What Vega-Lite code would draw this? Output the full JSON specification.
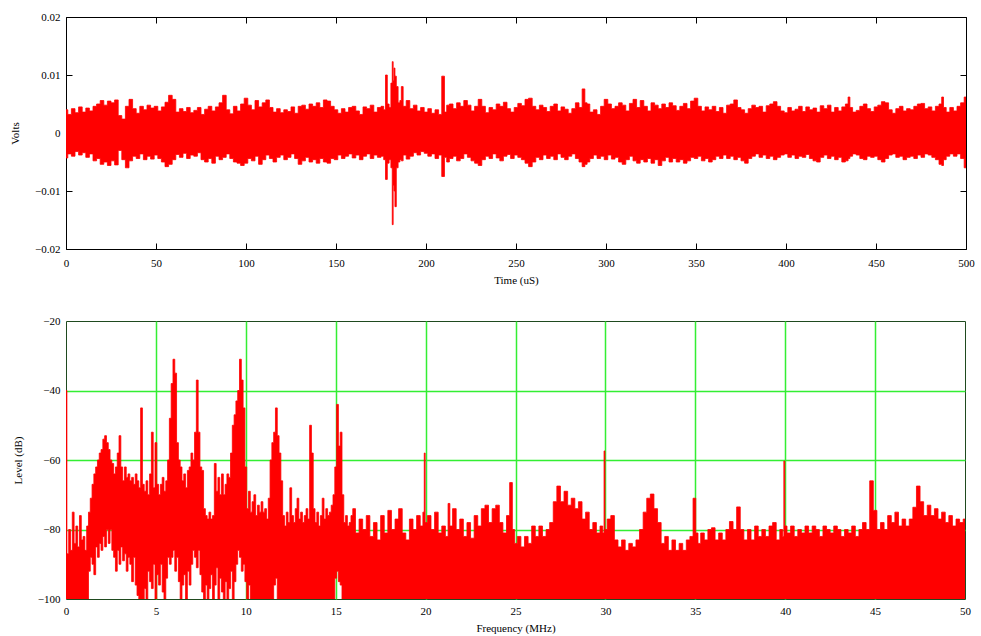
{
  "$schema": "https://vega.github.io/schema/vega-lite/v6.json",
  "background": "white",
  "padding": {"left": 9, "top": 10, "right": 10, "bottom": 0},
  "spacing": 28,
  "config": {
    "font": "Liberation Serif",
    "axis": {"labelFont": "Liberation Serif", "labelFontSize": 11, "labelColor": "#000", "titleFont": "Liberation Serif", "titleFontSize": 11, "titleFontWeight": "normal", "titleColor": "#000", "domain": false, "tickColor": "#000", "grid": false, "labelFlush": false, "labelOverlap": false},
    "view": {"stroke": "#000", "strokeWidth": 1}
  },
  "vconcat": [
    {
      "width": 900,
      "height": 232,
      "data": {"values": "t,hi,lo\n0,0.0040,-0.0043\n2,0.0032,-0.0036\n4,0.0042,-0.0040\n6,0.0035,-0.0032\n8,0.0045,-0.0038\n10,0.0036,-0.0034\n12,0.0043,-0.0042\n14,0.0038,-0.0036\n16,0.0046,-0.0048\n18,0.0050,-0.0044\n20,0.0056,-0.0054\n22,0.0048,-0.0050\n24,0.0055,-0.0056\n26,0.0052,-0.0048\n28,0.0057,-0.0055\n30,0.0030,-0.0030\n32,0.0024,-0.0046\n34,0.0046,-0.0060\n36,0.0058,-0.0048\n38,0.0042,-0.0040\n40,0.0034,-0.0044\n42,0.0046,-0.0036\n44,0.0040,-0.0046\n46,0.0048,-0.0040\n48,0.0043,-0.0045\n50,0.0046,-0.0038\n52,0.0038,-0.0044\n54,0.0045,-0.0050\n56,0.0053,-0.0058\n58,0.0065,-0.0054\n60,0.0058,-0.0046\n62,0.0036,-0.0037\n64,0.0042,-0.0042\n66,0.0037,-0.0035\n68,0.0044,-0.0044\n70,0.0035,-0.0038\n72,0.0039,-0.0040\n74,0.0044,-0.0034\n76,0.0032,-0.0046\n78,0.0041,-0.0050\n80,0.0046,-0.0044\n82,0.0038,-0.0052\n84,0.0045,-0.0040\n86,0.0052,-0.0046\n88,0.0065,-0.0042\n90,0.0040,-0.0036\n92,0.0033,-0.0044\n94,0.0046,-0.0050\n96,0.0038,-0.0052\n98,0.0050,-0.0056\n100,0.0060,-0.0052\n102,0.0048,-0.0044\n104,0.0040,-0.0048\n106,0.0056,-0.0040\n108,0.0045,-0.0054\n110,0.0052,-0.0046\n112,0.0057,-0.0038\n114,0.0044,-0.0044\n116,0.0036,-0.0050\n118,0.0042,-0.0042\n120,0.0035,-0.0038\n122,0.0040,-0.0046\n124,0.0037,-0.0042\n126,0.0045,-0.0036\n128,0.0034,-0.0044\n130,0.0046,-0.0054\n132,0.0048,-0.0048\n134,0.0041,-0.0042\n136,0.0050,-0.0050\n138,0.0046,-0.0046\n140,0.0052,-0.0052\n142,0.0044,-0.0044\n144,0.0057,-0.0050\n146,0.0055,-0.0052\n148,0.0046,-0.0044\n150,0.0040,-0.0046\n152,0.0034,-0.0038\n154,0.0042,-0.0044\n156,0.0036,-0.0040\n158,0.0044,-0.0036\n160,0.0046,-0.0043\n162,0.0038,-0.0038\n164,0.0032,-0.0046\n166,0.0045,-0.0040\n168,0.0042,-0.0036\n170,0.0048,-0.0044\n172,0.0036,-0.0038\n174,0.0044,-0.0042\n176,0.0046,-0.0040\n177,0.0040,-0.0046\n178,0.0100,-0.0080\n179,0.0050,-0.0052\n180,0.0044,-0.0046\n181,0.0086,-0.0060\n181.5,0.0123,-0.0158\n182,0.0090,-0.0090\n182.5,0.0112,-0.0100\n183,0.0098,-0.0127\n184,0.0080,-0.0060\n185,0.0052,-0.0050\n186,0.0056,-0.0046\n186.6,0.0080,-0.0048\n188,0.0046,-0.0038\n190,0.0056,-0.0045\n192,0.0042,-0.0040\n194,0.0048,-0.0034\n196,0.0038,-0.0038\n198,0.0044,-0.0032\n200,0.0036,-0.0035\n202,0.0042,-0.0040\n204,0.0034,-0.0036\n206,0.0040,-0.0044\n208,0.0032,-0.0038\n209.5,0.0098,-0.0075\n211,0.0036,-0.0042\n212,0.0048,-0.0050\n214,0.0050,-0.0044\n216,0.0042,-0.0040\n218,0.0052,-0.0048\n220,0.0046,-0.0044\n222,0.0056,-0.0036\n224,0.0048,-0.0042\n226,0.0038,-0.0048\n228,0.0046,-0.0052\n230,0.0058,-0.0056\n232,0.0046,-0.0046\n234,0.0035,-0.0040\n236,0.0044,-0.0044\n238,0.0040,-0.0036\n240,0.0050,-0.0043\n242,0.0046,-0.0048\n244,0.0053,-0.0040\n246,0.0042,-0.0037\n248,0.0036,-0.0044\n250,0.0044,-0.0038\n252,0.0051,-0.0042\n254,0.0047,-0.0046\n256,0.0058,-0.0052\n258,0.0060,-0.0058\n260,0.0046,-0.0050\n262,0.0040,-0.0042\n264,0.0048,-0.0046\n266,0.0044,-0.0038\n268,0.0037,-0.0044\n270,0.0046,-0.0040\n272,0.0050,-0.0046\n274,0.0038,-0.0036\n276,0.0045,-0.0042\n278,0.0041,-0.0046\n280,0.0034,-0.0040\n282,0.0042,-0.0036\n284,0.0052,-0.0044\n286,0.0044,-0.0050\n287.5,0.0076,-0.0058\n289,0.0052,-0.0054\n290,0.0050,-0.0050\n292,0.0036,-0.0044\n294,0.0040,-0.0038\n296,0.0032,-0.0044\n298,0.0046,-0.0040\n300,0.0058,-0.0046\n302,0.0050,-0.0038\n304,0.0042,-0.0045\n306,0.0046,-0.0042\n308,0.0052,-0.0050\n310,0.0048,-0.0054\n312,0.0038,-0.0046\n314,0.0051,-0.0040\n316,0.0058,-0.0048\n318,0.0044,-0.0052\n320,0.0056,-0.0046\n322,0.0046,-0.0050\n324,0.0038,-0.0044\n326,0.0052,-0.0052\n328,0.0048,-0.0046\n330,0.0042,-0.0056\n332,0.0050,-0.0048\n334,0.0044,-0.0042\n336,0.0052,-0.0050\n338,0.0047,-0.0044\n340,0.0039,-0.0050\n342,0.0046,-0.0046\n344,0.0051,-0.0052\n346,0.0042,-0.0048\n348,0.0055,-0.0042\n350,0.0060,-0.0044\n352,0.0046,-0.0040\n354,0.0038,-0.0048\n356,0.0045,-0.0044\n358,0.0040,-0.0050\n360,0.0046,-0.0046\n362,0.0037,-0.0040\n364,0.0044,-0.0044\n366,0.0034,-0.0038\n368,0.0048,-0.0044\n370,0.0050,-0.0040\n372,0.0057,-0.0046\n374,0.0044,-0.0042\n376,0.0040,-0.0048\n378,0.0034,-0.0052\n380,0.0042,-0.0044\n382,0.0048,-0.0040\n384,0.0044,-0.0036\n386,0.0046,-0.0042\n388,0.0036,-0.0038\n390,0.0047,-0.0044\n392,0.0050,-0.0040\n394,0.0054,-0.0046\n396,0.0046,-0.0042\n398,0.0038,-0.0038\n400,0.0035,-0.0036\n402,0.0044,-0.0042\n404,0.0038,-0.0038\n406,0.0041,-0.0044\n408,0.0046,-0.0040\n410,0.0037,-0.0042\n412,0.0045,-0.0037\n414,0.0040,-0.0044\n416,0.0043,-0.0048\n418,0.0036,-0.0050\n420,0.0047,-0.0042\n422,0.0042,-0.0038\n424,0.0048,-0.0044\n426,0.0036,-0.0040\n428,0.0044,-0.0046\n430,0.0038,-0.0042\n432,0.0045,-0.0050\n434,0.0050,-0.0048\n435,0.0062,-0.0044\n436,0.0044,-0.0040\n438,0.0036,-0.0036\n440,0.0039,-0.0038\n442,0.0046,-0.0044\n444,0.0050,-0.0046\n446,0.0042,-0.0040\n448,0.0037,-0.0042\n450,0.0045,-0.0040\n452,0.0048,-0.0046\n454,0.0054,-0.0050\n456,0.0052,-0.0044\n458,0.0040,-0.0038\n460,0.0034,-0.0036\n462,0.0042,-0.0042\n464,0.0046,-0.0040\n466,0.0038,-0.0046\n468,0.0042,-0.0042\n470,0.0040,-0.0040\n472,0.0046,-0.0044\n474,0.0050,-0.0038\n476,0.0051,-0.0042\n478,0.0042,-0.0036\n480,0.0045,-0.0038\n482,0.0038,-0.0042\n484,0.0046,-0.0046\n486,0.0050,-0.0054\n487,0.0062,-0.0056\n488,0.0044,-0.0046\n490,0.0036,-0.0040\n492,0.0044,-0.0036\n494,0.0038,-0.0040\n496,0.0046,-0.0036\n498,0.0052,-0.0044\n500,0.0062,-0.0060", "format": {"type": "csv"}},
      "layer": [
        {
          "mark": {"type": "area", "color": "#ff0000", "stroke": "#ff0000", "strokeWidth": 0.8, "interpolate": "step", "clip": true},
          "encoding": {
            "x": {"field": "t", "type": "quantitative", "scale": {"domain": [0, 500], "nice": false, "zero": false},
                  "axis": {"orient": "bottom", "values": [0, 50, 100, 150, 200, 250, 300, 350, 400, 450, 500], "tickSize": -6, "labelPadding": 14, "title": "Time (uS)", "titlePadding": 6}},
            "y": {"field": "hi", "type": "quantitative", "scale": {"domain": [-0.02, 0.02], "nice": false, "zero": false},
                  "axis": {"orient": "left", "values": [-0.02, -0.01, 0, 0.01, 0.02], "format": ".2~f", "tickSize": -6, "labelPadding": 12, "title": "Volts", "titlePadding": 14}},
            "y2": {"field": "lo"}
          }
        },
        {
          "mark": {"type": "area", "opacity": 0},
          "encoding": {
            "x": {"field": "t", "type": "quantitative", "axis": {"orient": "top", "values": [0, 50, 100, 150, 200, 250, 300, 350, 400, 450, 500], "tickSize": -6, "labels": false, "title": null}},
            "y": {"field": "hi", "type": "quantitative", "axis": {"orient": "right", "values": [-0.02, -0.01, 0, 0.01, 0.02], "tickSize": -6, "labels": false, "title": null}},
            "y2": {"field": "lo"}
          }
        }
      ],
      "resolve": {"axis": {"x": "independent", "y": "independent"}}
    },
    {
      "width": 899,
      "height": 278,
      "view": {"stroke": "#1f4a1f"},
      "data": {"values": "f,hi,lo\n0,-40,-100\n0.1,-87,-100\n0.2,-80,-100\n0.3,-86,-100\n0.4,-75,-100\n0.5,-84,-100\n0.6,-79,-100\n0.7,-85,-100\n0.8,-76,-100\n0.9,-83,-100\n1.0,-82,-100\n1.1,-86,-100\n1.2,-79,-100\n1.3,-75,-92\n1.4,-71,-88\n1.5,-67,-90\n1.6,-64,-93\n1.7,-62,-85\n1.8,-60,-88\n1.9,-58,-84\n2.0,-57,-86\n2.1,-54,-82\n2.2,-53,-85\n2.3,-55,-80\n2.4,-57,-84\n2.5,-60,-80\n2.6,-61,-86\n2.7,-64,-88\n2.8,-62,-92\n2.9,-58,-86\n3.0,-53,-90\n3.1,-62,-85\n3.2,-66,-89\n3.3,-62,-87\n3.4,-65,-92\n3.5,-64,-88\n3.6,-66,-90\n3.7,-65,-95\n3.8,-67,-88\n3.9,-64,-96\n4.0,-66,-99\n4.1,-68,-100\n4.2,-45,-100\n4.3,-67,-100\n4.4,-69,-97\n4.5,-66,-100\n4.6,-70,-92\n4.7,-64,-95\n4.8,-52,-97\n4.9,-68,-90\n5.0,-55,-100\n5.1,-67,-93\n5.2,-70,-96\n5.3,-67,-90\n5.4,-65,-98\n5.5,-69,-100\n5.6,-66,-94\n5.7,-60,-88\n5.8,-48,-90\n5.9,-38,-88\n6.0,-31,-86\n6.1,-35,-92\n6.2,-55,-88\n6.3,-60,-95\n6.4,-62,-100\n6.5,-66,-96\n6.6,-64,-93\n6.7,-68,-100\n6.8,-63,-92\n6.9,-62,-96\n7.0,-58,-90\n7.1,-60,-86\n7.2,-52,-88\n7.3,-37,-91\n7.4,-52,-86\n7.5,-62,-93\n7.6,-63,-98\n7.7,-74,-100\n7.8,-76,-96\n7.9,-77,-100\n8.0,-75,-97\n8.1,-77,-93\n8.2,-76,-100\n8.3,-61,-96\n8.4,-69,-91\n8.5,-65,-100\n8.6,-70,-94\n8.7,-64,-98\n8.8,-70,-100\n8.9,-67,-95\n9.0,-64,-100\n9.1,-65,-97\n9.2,-58,-92\n9.3,-50,-100\n9.4,-47,-95\n9.5,-43,-90\n9.6,-40,-86\n9.7,-31,-88\n9.8,-37,-92\n9.9,-45,-90\n10.0,-62,-95\n10.1,-74,-100\n10.2,-69,-96\n10.3,-75,-100\n10.4,-72,-100\n10.5,-70,-100\n10.6,-76,-100\n10.7,-73,-100\n10.8,-75,-100\n10.9,-72,-100\n11.0,-75,-100\n11.1,-74,-100\n11.2,-77,-100\n11.3,-71,-100\n11.4,-60,-100\n11.5,-55,-100\n11.6,-52,-96\n11.7,-45,-94\n11.8,-53,-100\n11.9,-58,-100\n12.0,-66,-100\n12.1,-76,-100\n12.2,-79,-100\n12.3,-75,-100\n12.4,-78,-100\n12.5,-68,-100\n12.6,-76,-100\n12.7,-78,-100\n12.8,-74,-100\n12.9,-71,-100\n13.0,-77,-100\n13.1,-75,-100\n13.2,-78,-100\n13.3,-76,-100\n13.4,-74,-100\n13.5,-77,-100\n13.6,-50,-100\n13.7,-58,-100\n13.8,-74,-100\n13.9,-78,-100\n14.0,-75,-100\n14.1,-79,-100\n14.2,-76,-100\n14.3,-71,-100\n14.4,-77,-100\n14.5,-74,-100\n14.6,-76,-100\n14.7,-75,-100\n14.8,-73,-100\n14.9,-70,-100\n15.0,-62,-94\n15.1,-44,-92\n15.2,-56,-95\n15.3,-52,-96\n15.4,-70,-100\n15.5,-78,-100\n15.6,-76,-100\n15.7,-79,-100\n15.8,-78,-100\n15.9,-76,-100\n16.0,-74,-100\n16.2,-81,-100\n16.4,-77,-100\n16.6,-80,-100\n16.8,-76,-100\n17.0,-82,-100\n17.2,-78,-100\n17.4,-83,-100\n17.6,-76,-100\n17.8,-81,-100\n18.0,-74.5,-100\n18.2,-80,-100\n18.4,-77,-100\n18.6,-74,-100\n18.8,-81,-100\n19.0,-83,-100\n19.2,-77,-100\n19.4,-80,-100\n19.6,-76,-100\n19.8,-79,-100\n19.9,-75,-100\n19.95,-58,-100\n20.0,-78,-100\n20.2,-76,-100\n20.4,-80,-100\n20.6,-75,-100\n20.8,-81,-100\n21.0,-79,-100\n21.2,-82,-100\n21.3,-72.5,-100\n21.4,-79,-100\n21.6,-74,-100\n21.8,-80,-100\n22.0,-77,-100\n22.2,-82,-100\n22.4,-78,-100\n22.6,-82.5,-100\n22.8,-76,-100\n23.0,-79,-100\n23.2,-74,-100\n23.4,-73,-100\n23.6,-78,-100\n23.8,-74,-100\n24.0,-73,-100\n24.2,-78,-100\n24.4,-81,-100\n24.6,-76,-100\n24.75,-66.5,-100\n24.9,-80,-100\n25.0,-84,-100\n25.2,-82,-100\n25.4,-85,-100\n25.6,-82,-100\n25.8,-84,-100\n26.0,-79,-100\n26.2,-82,-100\n26.4,-79,-100\n26.6,-82,-100\n26.8,-80,-100\n27.0,-78,-100\n27.2,-72,-100\n27.4,-67.5,-100\n27.6,-72,-100\n27.8,-69,-100\n28.0,-73,-100\n28.2,-71,-100\n28.4,-74,-100\n28.6,-72,-100\n28.8,-77,-100\n29.0,-75,-100\n29.2,-80,-100\n29.4,-78,-100\n29.6,-81,-100\n29.8,-79,-100\n29.9,-81,-100\n29.95,-57.4,-100\n30.0,-80,-100\n30.2,-77,-100\n30.4,-76,-100\n30.6,-83,-100\n30.8,-85,-100\n31.0,-83,-100\n31.2,-86,-100\n31.4,-84,-100\n31.6,-85,-100\n31.8,-83,-100\n32.0,-80,-100\n32.2,-75,-100\n32.4,-71,-100\n32.6,-69.8,-100\n32.8,-74,-100\n33.0,-78,-100\n33.2,-84,-100\n33.4,-82,-100\n33.6,-86,-100\n33.8,-83,-100\n34.0,-86,-100\n34.2,-84,-100\n34.4,-86,-100\n34.6,-83,-100\n34.8,-82,-100\n34.95,-71,-100\n35.1,-81,-100\n35.2,-84,-100\n35.4,-81,-100\n35.6,-83,-100\n35.8,-80,-100\n36.0,-79.5,-100\n36.2,-83,-100\n36.4,-81,-100\n36.6,-83,-100\n36.8,-80,-100\n37.0,-77.7,-100\n37.2,-80,-100\n37.4,-73.5,-100\n37.6,-80,-100\n37.8,-83,-100\n38.0,-80,-100\n38.2,-83,-100\n38.4,-79,-100\n38.6,-82,-100\n38.8,-80,-100\n39.0,-82,-100\n39.2,-79,-100\n39.4,-78,-100\n39.6,-83,-100\n39.8,-80,-100\n39.9,-82,-100\n39.95,-60.3,-100\n40.0,-79,-100\n40.2,-81,-100\n40.4,-79,-100\n40.6,-82,-100\n40.8,-80,-100\n41.0,-81,-100\n41.2,-79,-100\n41.4,-81,-100\n41.6,-79,-100\n41.8,-80,-100\n42.0,-82,-100\n42.2,-79,-100\n42.4,-80,-100\n42.6,-81,-100\n42.8,-79,-100\n43.0,-80,-100\n43.2,-82,-100\n43.4,-80,-100\n43.6,-81,-100\n43.8,-79,-100\n44.0,-82,-100\n44.2,-80,-100\n44.4,-78,-100\n44.6,-80,-100\n44.8,-66,-100\n45.0,-74.5,-100\n45.2,-80,-100\n45.4,-78,-100\n45.6,-80,-100\n45.8,-76,-100\n46.0,-78,-100\n46.2,-75,-100\n46.4,-79,-100\n46.6,-77,-100\n46.8,-79,-100\n47.0,-77,-100\n47.2,-73.6,-100\n47.4,-67.5,-100\n47.6,-72,-100\n47.8,-76,-100\n48.0,-73,-100\n48.2,-76,-100\n48.4,-74,-100\n48.6,-77,-100\n48.8,-75,-100\n49.0,-78,-100\n49.2,-76,-100\n49.4,-79,-100\n49.6,-77,-100\n49.8,-78,-100\n50.0,-77,-100", "format": {"type": "csv"}},
      "mark": {"type": "area", "color": "#ff0000", "stroke": "#ff0000", "strokeWidth": 0.8, "interpolate": "step", "clip": true},
      "encoding": {
        "x": {"field": "f", "type": "quantitative", "scale": {"domain": [0, 50], "nice": false, "zero": false},
              "axis": {"values": [0, 5, 10, 15, 20, 25, 30, 35, 40, 45, 50], "ticks": false, "labelPadding": 6, "title": "Frequency (MHz)", "titlePadding": 6,
                       "grid": true, "gridWidth": 1.5, "gridColor": {"condition": {"test": "datum.value == 0 || datum.value == 50", "value": "transparent"}, "value": "#33ee33"}}},
        "y": {"field": "hi", "type": "quantitative", "scale": {"domain": [-100, -20], "nice": false, "zero": false},
              "axis": {"values": [-100, -80, -60, -40, -20], "ticks": false, "labelPadding": 6, "title": "Level (dB)", "titlePadding": 14,
                       "grid": true, "gridWidth": 1.5, "gridColor": {"condition": {"test": "datum.value == -100 || datum.value == -20", "value": "transparent"}, "value": "#33ee33"}}},
        "y2": {"field": "lo"}
      }
    }
  ]
}
